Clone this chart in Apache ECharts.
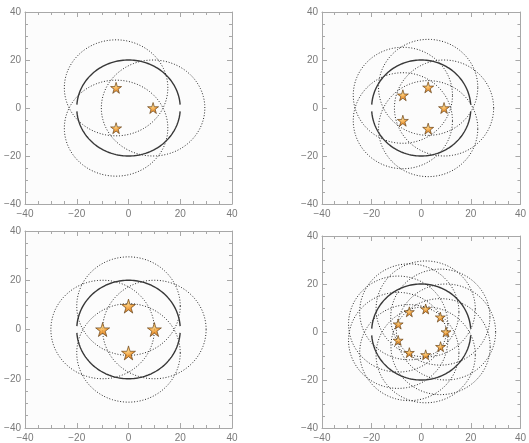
<!DOCTYPE html>
<html>
<head>
    <meta charset="utf-8">
    <title>rings</title>
    <script src="https://cdn.jsdelivr.net/npm/echarts@6/dist/echarts.min.js"></script>
    <style>html, body { margin: 0; padding: 0; background: #fff; }</style>
</head>
<body>
<div id="main" style="width: 529px;height:443px;"></div>
<script type="text/javascript">
    // star positions, one list per panel
    let stars3 = [[-4.8, 8.4], [9.5, 0], [-4.8, -8.4]];
    let stars5 = [[2.8, 8.6], [9.2, 0], [2.8, -8.6], [-7.4, 5.3], [-7.4, -5.3]];
    let stars4 = [[0, 9.5], [10, 0], [0, -9.5], [-10, 0]];
    let stars9 = [[10, 0], [7.7, 6.2], [1.8, 9.6], [-4.8, 8.4], [-9.3, 3.3],
                  [-9.3, -3.5], [-4.8, -8.6], [1.8, -9.5], [7.8, -6.1]];
    let centre = [[0, 0]];
    let ringRadius = 20;
    let tickValues = [-40, -20, 0, 20, 40];

    let panels = [
        { stars: stars3, size: 11, grid: { left: 25, top: 12, width: 207, height: 192 } },
        { stars: stars5, size: 11, grid: { left: 322, top: 12, width: 202, height: 192 } },
        { stars: stars4, size: 14, grid: { left: 25, top: 231, width: 207, height: 202 } },
        { stars: stars9, size: 10, grid: { left: 322, top: 236, width: 204, height: 192 } }
    ];

    let starPath = 'path://M50,0 L61,35 L98,35 L68,57 L79,91 L50,70 L21,91 L32,57 L2,35 L39,35 Z';

    // points of a circle (or part of it) mapped through the axes
    function ringPoints(api, cx, cy, r, from, to) {
        let pts = [];
        for (let a = from; a <= to; a += 2) {
            let t = a * Math.PI / 180;
            pts.push(api.coord([cx + r * Math.cos(t), cy + r * Math.sin(t)]));
        }
        return pts;
    }

    function dottedRing(params, api) {
        return {
            type: 'polyline',
            shape: { points: ringPoints(api, api.value(0), api.value(1), ringRadius, 0, 360) },
            style: { stroke: '#262626', lineWidth: 1, lineDash: [1, 1.8], fill: 'none' }
        };
    }

    function solidRing(params, api) {
        let cx = api.value(0), cy = api.value(1);
        let style = { stroke: '#383838', lineWidth: 1.4, fill: 'none' };
        return {
            type: 'group',
            children: [
                { type: 'polyline', shape: { points: ringPoints(api, cx, cy, ringRadius, 4, 176) }, style: style },
                { type: 'polyline', shape: { points: ringPoints(api, cx, cy, ringRadius, 184, 356) }, style: style }
            ]
        };
    }

    function axis(type, pos, idx, showLabel) {
        return {
            type: 'value',
            gridIndex: idx,
            position: pos,
            min: tickValues[0],
            max: tickValues[tickValues.length - 1],
            interval: 20,
            axisLine: { show: true, onZero: false, lineStyle: { color: '#a8a8a8', width: 1 } },
            axisTick: { show: true, inside: true, length: 5, lineStyle: { color: '#a8a8a8' } },
            minorTick: { show: true, splitNumber: 4, length: 3, lineStyle: { color: '#a8a8a8' } },
            splitLine: { show: false },
            axisLabel: {
                show: showLabel,
                fontSize: 10,
                fontFamily: 'Liberation Sans',
                color: '#7a7a7a',
                margin: type === 'x' ? 5 : 4,
                formatter: function (v) { return String(v).replace('-', '\u2212'); }
            }
        };
    }

    let grids = [], xAxes = [], yAxes = [], series = [];
    panels.forEach(function (p, i) {
        grids.push(Object.assign({ show: true, backgroundColor: '#fcfcfc', borderWidth: 0 }, p.grid));
        xAxes.push(axis('x', 'bottom', i, true));
        xAxes.push(axis('x', 'top', i, false));
        yAxes.push(axis('y', 'left', i, true));
        yAxes.push(axis('y', 'right', i, false));
        series.push({
            type: 'custom', xAxisIndex: i * 2, yAxisIndex: i * 2,
            renderItem: dottedRing, data: p.stars, silent: true, z: 2
        });
        series.push({
            type: 'custom', xAxisIndex: i * 2, yAxisIndex: i * 2,
            renderItem: solidRing, data: centre, silent: true, z: 3
        });
        series.push({
            type: 'scatter', xAxisIndex: i * 2, yAxisIndex: i * 2,
            symbol: starPath, symbolSize: p.size, data: p.stars, z: 5,
            itemStyle: {
                color: {
                    type: 'radial', x: 0.45, y: 0.35, r: 0.7,
                    colorStops: [
                        { offset: 0, color: '#ffcf70' },
                        { offset: 0.5, color: '#ee8a12' },
                        { offset: 1, color: '#a85204' }
                    ]
                },
                borderColor: '#5e3a0e',
                borderWidth: 0.8
            }
        });
    });

    let myChart = echarts.init(document.getElementById('main'));
    myChart.setOption({
        animation: false,
        backgroundColor: '#fff',
        grid: grids,
        xAxis: xAxes,
        yAxis: yAxes,
        series: series
    });
</script>
</body>
</html>
